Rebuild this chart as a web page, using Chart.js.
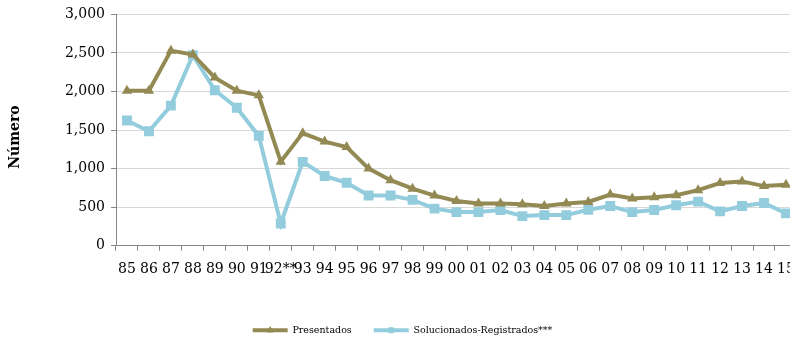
<!DOCTYPE html>
<html>
<head>
<meta charset="utf-8">
<script src="https://cdn.jsdelivr.net/npm/chart.js@4/dist/chart.umd.min.js"></script>
<style>
  html, body { margin: 0; padding: 0; background: #fff; overflow: hidden; }
</style>
</head>
<body>
<canvas id="c" width="805" height="340"></canvas>
<script>
// años (eje x)
const years = ['85','86','87','88','89','90','91','92**','93','94','95','96','97','98','99',
               '00','01','02','03','04','05','06','07','08','09','10','11','12','13','14','15'];

const presentados = [2010, 2010, 2530, 2480, 2180, 2010, 1950, 1090, 1460, 1350, 1280, 1000, 850, 740, 650,
                     580, 546, 546, 537, 515, 546, 567, 664, 612, 629, 655, 720, 812, 834, 773, 790];

const solucionados = [1624, 1484, 1817, 2472, 2017, 1790, 1424, 288, 1087, 904, 816, 651, 651, 594, 481,
                      436, 436, 463, 384, 397, 397, 467, 515, 436, 463, 524, 572, 445, 515, 554, 419];

const OLIVE = '#938953', BLUE = '#93CDDD';
const FONT = 'DejaVu Serif';

// dibuja el marcador en medio de la linea de la leyenda
const legendMarkers = {
  id: 'legendMarkers',
  afterDraw(chart) {
    const lg = chart.legend;
    if (!lg || !lg.legendHitBoxes) return;
    const ctx = chart.ctx;
    lg.legendHitBoxes.forEach((box, i) => {
      const ds = chart.data.datasets[i];
      const bw = lg.options.labels.boxWidth;
      ctx.save();
      ctx.fillStyle = ds.borderColor;
      ctx.strokeStyle = ds.borderColor;
      ctx.lineWidth = 1;
      Chart.helpers.drawPoint(ctx, {pointStyle: ds.pointStyle, radius: 3.5, borderWidth: 1},
        box.left + bw / 2, box.top + box.height / 2);
      ctx.restore();
    });
  }
};

// titulo del eje y (un poco por debajo del centro, como en excel)
const yTitle = {
  id: 'yTitle',
  afterDraw(chart) {
    const ctx = chart.ctx;
    const ca = chart.chartArea;
    ctx.save();
    ctx.translate(15, (ca.top + ca.bottom) / 2 + 7);
    ctx.rotate(-Math.PI / 2);
    ctx.font = 'bold 14px "' + FONT + '"';
    ctx.fillStyle = '#000';
    ctx.textAlign = 'center';
    ctx.textBaseline = 'middle';
    ctx.fillText('Número', 0, 0);
    ctx.restore();
  }
};

new Chart('c', {
  type: 'line',
  data: {
    labels: years,
    datasets: [{
      label: 'Presentados',
      data: presentados,
      borderColor: OLIVE,
      backgroundColor: OLIVE,
      borderWidth: 4,
      pointStyle: 'triangle',
      pointRadius: 6,
      pointBorderWidth: 0,
      pointBackgroundColor: OLIVE,
      tension: 0
    }, {
      label: 'Solucionados-Registrados***',
      data: solucionados,
      borderColor: BLUE,
      backgroundColor: BLUE,
      borderWidth: 4,
      pointStyle: 'rect',
      pointRadius: 7,
      pointBorderWidth: 0,
      pointBackgroundColor: BLUE,
      tension: 0
    }]
  },
  options: {
    responsive: false,
    animation: false,
    layout: {padding: {top: 12, right: 0, left: 0, bottom: -5}},
    plugins: {
      tooltip: {enabled: false},
      legend: {
        position: 'bottom',
        labels: {
          font: {family: FONT, size: 9.5},
          color: '#000',
          boxWidth: 35,
          boxHeight: 4,
          padding: 22,
          generateLabels: (chart) => Chart.defaults.plugins.legend.labels.generateLabels(chart)
            .map(l => Object.assign(l, {lineWidth: 0}))
        }
      }
    },
    scales: {
      x: {
        offset: true,
        grid: {offset: true, drawOnChartArea: false, drawTicks: true, tickLength: 5, color: '#868686'},
        border: {display: true, color: '#868686'},
        ticks: {font: {family: FONT, size: 14}, color: '#000', maxRotation: 0, autoSkip: false, padding: 10},
        afterFit: (s) => { s.height += 16; }
      },
      y: {
        min: 0, max: 3000,
        ticks: {stepSize: 500, font: {family: FONT, size: 14}, color: '#000', padding: 6,
                callback: (v) => v.toLocaleString('en-US')},
        grid: {color: '#d9d9d9', tickLength: 5, tickColor: '#868686'},
        border: {display: true, color: '#868686'},
        afterFit: (s) => { s.width = 116; }
      }
    }
  },
  plugins: [legendMarkers, yTitle]
});
</script>
</body>
</html>
